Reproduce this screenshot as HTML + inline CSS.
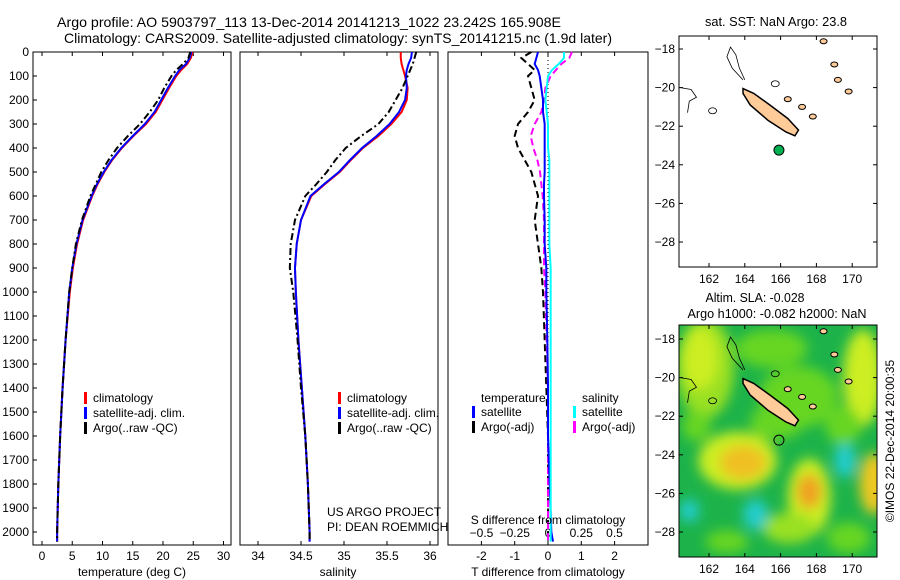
<!DOCTYPE html>
<html><head><meta charset="utf-8"><style>
body{margin:0;background:#fff;}
svg{display:block;font-family:"Liberation Sans",sans-serif;font-size:12px;}
</style></head><body>
<svg id="c" width="900" height="580">
<defs><clipPath id="mclip"><rect x="679" y="325" width="198" height="232"/></clipPath>
<filter id="blur" x="-20%" y="-20%" width="140%" height="140%"><feGaussianBlur stdDeviation="6"/></filter></defs>
<text x="309" y="27" text-anchor="middle" font-size="14" textLength="504" lengthAdjust="spacingAndGlyphs">Argo profile: AO 5903797_113 13-Dec-2014 20141213_1022 23.242S 165.908E</text>
<text x="338" y="43" text-anchor="middle" font-size="14" textLength="548" lengthAdjust="spacingAndGlyphs">Climatology: CARS2009. Satellite-adjusted climatology: synTS_20141215.nc (1.9d later)</text>
</svg>
<script>
const depths=[0,25,50,75,100,150,200,250,300,350,400,450,500,550,600,700,800,900,1000,1200,1400,1600,1800,2000,2040];
const tClim=[24.9,24.6,24.0,23.0,22.2,21.0,19.9,18.8,17.2,15.1,13.2,11.6,10.3,9.2,8.3,6.8,5.8,5.1,4.6,3.9,3.4,3.0,2.7,2.5,2.5];
const tSat=[24.7,24.4,23.8,22.7,22.0,20.8,19.7,18.6,17.0,15.0,13.1,11.5,10.2,9.1,8.2,6.7,5.7,5.0,4.5,3.9,3.4,3.0,2.7,2.5,2.5];
const tArgo=[24.5,24.2,23.3,22.2,21.4,20.2,19.2,17.8,16.2,14.2,12.4,11.0,9.8,8.9,8.0,6.6,5.6,5.0,4.5,3.9,3.4,3.0,2.7,2.5,2.5];
const sClim=[35.66,35.66,35.67,35.69,35.71,35.74,35.73,35.67,35.55,35.40,35.22,35.08,34.95,34.78,34.62,34.50,34.45,34.43,34.44,34.47,34.51,34.55,34.58,34.60,34.60];
const sSat=[35.79,35.78,35.75,35.73,35.72,35.73,35.71,35.64,35.53,35.38,35.21,35.07,34.94,34.77,34.61,34.50,34.45,34.43,34.44,34.47,34.51,34.55,34.58,34.60,34.60];
const sArgo=[35.84,35.82,35.80,35.77,35.74,35.68,35.60,35.52,35.40,35.20,35.02,34.90,34.80,34.68,34.55,34.43,34.38,34.37,34.41,34.46,34.50,34.55,34.58,34.60,34.60];
const dTsat=[-0.3,-0.35,-0.4,-0.3,-0.25,-0.2,-0.15,-0.15,-0.1,-0.1,-0.1,-0.1,-0.1,-0.12,-0.12,-0.1,-0.1,-0.05,-0.05,-0.02,0,0,0.05,0.1,0.15];
const dTargo=[-0.5,-0.8,-0.6,-0.4,-0.6,-0.5,-0.4,-0.6,-0.9,-1.0,-0.9,-0.7,-0.5,-0.4,-0.3,-0.4,-0.3,-0.2,-0.15,-0.1,-0.05,0,0,0,0];
const dSsat=[0.12,0.12,0.08,0.03,0.0,-0.01,-0.02,-0.01,0.0,0.0,0.0,0.01,0.01,0.01,0.01,0.01,0.01,0.02,0.02,0.02,0.02,0.02,0.02,0.02,0.02];
const dSargo=[0.18,0.16,0.1,0.06,0.02,-0.02,-0.03,-0.05,-0.1,-0.13,-0.11,-0.08,-0.06,-0.05,-0.04,-0.03,-0.03,-0.03,-0.02,-0.01,0,0,0,0,0];
const depthTicks=[0,100,200,300,400,500,600,700,800,900,1000,1100,1200,1300,1400,1500,1600,1700,1800,1900,2000];
const tTicks=[0,5,10,15,20,25,30];
const sTicks=[34,34.5,35,35.5,36];
const dtTicks=[-2,-1,0,1,2];
const dsTicks=[-0.5,-0.25,0,0.25,0.5];
const lonTicks=[162,164,166,168,170];
const latTicks=[-18,-20,-22,-24,-26,-28];

const NS='http://www.w3.org/2000/svg',svg=document.getElementById('c');
function el(t,a,txt,parent){const e=document.createElementNS(NS,t);for(const k in a)e.setAttribute(k,a[k]);if(txt!==undefined&&txt!==null)e.textContent=txt;(parent||svg).appendChild(e);return e;}
const Y=d=>52+d*0.24;
function panel(x0,x1,name){const r=el('rect',{x:x0,y:52,width:x1-x0,height:493,fill:'none',stroke:'#000'});}
function line(vals,X,col,dash,name,w){const p=el('polyline',{points:vals.map((v,i)=>X(v)+','+Y(depths[i])).join(' '),fill:'none',stroke:col,'stroke-width':w||2,'stroke-dasharray':dash||''});}
function xticks(ticks,X,y,name){ticks.forEach(t=>{el('line',{x1:X(t),x2:X(t),y1:545,y2:541,stroke:'#000'});el('line',{x1:X(t),x2:X(t),y1:52,y2:56,stroke:'#000'});const e=el('text',{x:X(t),y:y,'text-anchor':'middle'},t);});}
function legend(x,y,items){items.forEach((it,i)=>{el('rect',{x:x,y:y+i*15-10,width:3,height:12,fill:it[0]});const e=el('text',{x:x+9,y:y+i*15},it[1]);});}
depthTicks.forEach(d=>{el('line',{x1:33,x2:37,y1:Y(d),y2:Y(d),stroke:'#000'});const e=el('text',{x:29,y:Y(d)+4,'text-anchor':'end'},d);});
const XT=v=>42+v*6.05;
panel(33,231,'temperature-panel');
xticks(tTicks,XT,560,'temp-tick-label');
line(tClim,XT,'#f00','','temp-climatology-line');
line(tSat,XT,'#00f','','temp-satellite-line');
line(tArgo,XT,'#000','7,3,2,3','temp-argo-line');
el('text',{x:132,y:576,'text-anchor':'middle',},'temperature (deg C)');
legend(84,402,[['#f00','climatology'],['#00f','satellite-adj. clim.'],['#000','Argo(..raw -QC)']]);
const XS=v=>258+(v-34)*86;
panel(240,438,'salinity-panel');
xticks(sTicks,XS,560,'sal-tick-label');
line(sClim,XS,'#f00','','sal-climatology-line');
line(sSat,XS,'#00f','','sal-satellite-line');
line(sArgo,XS,'#000','7,3,2,3','sal-argo-line');
el('text',{x:338,y:576,'text-anchor':'middle',},'salinity');
legend(338,402,[['#f00','climatology'],['#00f','satellite-adj. clim.'],['#000','Argo(..raw -QC)']]);
el('text',{x:327,y:516,},'US ARGO PROJECT');
el('text',{x:327,y:531,},'PI: DEAN ROEMMICH');
const XD=v=>548+v*33.3, XDS=v=>548+v*133;
panel(448,648,'difference-panel');
xticks(dtTicks,XD,560,'tdiff-tick-label');
dsTicks.forEach(t=>{const e=el('text',{x:XDS(t),y:537,'text-anchor':'middle'},t===0?'0':(t<0?'\u2212'+(-t):t));});
el('line',{x1:548,x2:548,y1:52,y2:545,stroke:'#000','stroke-dasharray':'1,3'});
line(dTargo,XD,'#000','7,4','tdiff-argo-line');
line(dSargo,XDS,'#f0f','7,4','sdiff-argo-line');
line(dTsat,XD,'#00f','','tdiff-satellite-line');
line(dSsat,XDS,'#0ff','','sdiff-satellite-line');
el('text',{x:548,y:524,'text-anchor':'middle',},'S difference from climatology');
el('text',{x:548,y:576,'text-anchor':'middle',},'T difference from climatology');
el('text',{x:481,y:402,},'temperature');
el('text',{x:582,y:402,},'salinity');
legend(472,416,[['#00f','satellite'],['#000','Argo(-adj)']]);
legend(573,416,[['#0ff','satellite'],['#f0f','Argo(-adj)']]);
const MX=l=>709+(l-162)*17.9;
function map(y0,y1,latY,titles,heat){
 if(heat){
  const g=el('g',{'clip-path':'url(#mclip)'});
  el('rect',{x:679,y:y0,width:198,height:y1-y0,fill:'#1db34a'},null,g);
  const bg=el('g',{filter:'url(#blur)'},null,g);
  const blobs=[
   [161.8,-19.5,1.6,2.6,'#99e022'],[161.5,-19.0,1.0,1.6,'#ccee22'],
   [165.5,-18.5,2.0,1.0,'#66d622'],[167,-21,2.2,1.6,'#66d622'],[165.8,-22.3,1.5,0.9,'#66d622'],
   [170.6,-20,1.1,2.5,'#ccee22'],[169.5,-22.5,1.0,1.0,'#66d622'],
   [163.6,-24.3,2.2,1.5,'#ccee22'],[163.9,-24.4,1.3,0.9,'#f0c020'],
   [167.6,-26.2,1.2,2.0,'#ccee22'],[167.6,-25.9,0.7,0.9,'#f0a020'],[166.5,-27.8,1.5,0.8,'#99e022'],
   [171.2,-25.5,0.8,1.6,'#eec822'],[169.6,-24.3,0.6,0.9,'#22cccc'],
   [164.6,-27.1,0.7,0.8,'#22cccc'],[160.9,-26.9,0.55,0.6,'#22cccc'],[161.3,-22.5,0.8,0.8,'#66d622'],
   [169.8,-28.3,1.2,0.8,'#66d622'],[163,-28.5,1.2,0.6,'#66d622']];
  blobs.forEach(b=>el('ellipse',{cx:MX(b[0]),cy:latY(b[1]),rx:b[2]*17.9,ry:b[3]*19.3,fill:b[4]},null,bg));
 }
 const P=pts=>pts.map(p=>MX(p[0])+','+latY(p[1])).join(' ');
 el('polygon',{points:P([[163.9,-20.05],[164.5,-20.3],[165.4,-20.9],[166.4,-21.6],[167.0,-22.2],[166.8,-22.5],[166.3,-22.3],[165.3,-21.7],[164.3,-20.9],[163.9,-20.3]]),fill:'#ffcc99',stroke:'#000','stroke-width':1.5});
 [[167.2,-21.0],[167.8,-21.5],[166.4,-20.6],[169.2,-19.6],[168.4,-17.6],[169.0,-18.8],[169.8,-20.2]].forEach(p=>el('ellipse',{cx:MX(p[0]),cy:latY(p[1]),rx:3.5,ry:2.5,fill:'#ffcc99',stroke:'#000'}));
 el('polyline',{points:P([[163.9,-19.6],[163.3,-19.0],[163.0,-18.4],[163.2,-17.9],[163.5,-18.3],[163.7,-19.0],[164.0,-19.6]]),fill:'none',stroke:'#000','stroke-width':0.8});
 el('polyline',{points:P([[160.4,-20.0],[161.0,-20.1],[161.3,-20.5],[160.9,-20.7],[160.8,-21.3]]),fill:'none',stroke:'#000','stroke-width':0.8});
 el('ellipse',{cx:MX(162.2),cy:latY(-21.2),rx:4,ry:3,fill:'none',stroke:'#000','stroke-width':0.8});
 el('ellipse',{cx:MX(165.7),cy:latY(-19.8),rx:4,ry:3,fill:'none',stroke:'#000','stroke-width':0.8});
 const dot=el('circle',{cx:MX(165.908),cy:latY(-23.242),r:5,fill:heat?'none':'#00b050',stroke:'#000'});
 
 const fr=el('rect',{x:679,y:y0,width:198,height:y1-y0,fill:'none',stroke:'#000'});
 
 lonTicks.forEach(l=>{el('line',{x1:MX(l),x2:MX(l),y1:y0,y2:y0+4,stroke:'#000'});el('line',{x1:MX(l),x2:MX(l),y1:y1,y2:y1-4,stroke:'#000'});const e=el('text',{x:MX(l),y:y1+16,'text-anchor':'middle'},l);});
 latTicks.forEach(l=>{el('line',{x1:679,x2:683,y1:latY(l),y2:latY(l),stroke:'#000'});el('line',{x1:877,x2:873,y1:latY(l),y2:latY(l),stroke:'#000'});const e=el('text',{x:675,y:latY(l)+4,'text-anchor':'end'},'\u2212'+(-l));});
 titles.forEach(t=>{const e=el('text',{x:t[1],y:t[2],'text-anchor':'middle','font-size':13,textLength:t[3],lengthAdjust:'spacingAndGlyphs'},t[0]);});
}
map(36,267,l=>49+(-18-l)*19.3,[['sat. SST: NaN Argo: 23.8',776,26,142]],false);
map(325,557,l=>339+(-18-l)*19.3,[['Altim. SLA: -0.028',755,302,99],['Argo h1000: -0.082 h2000: NaN',777,318,179]],true);
const cr=el('text',{x:894,y:441,'text-anchor':'middle',transform:'rotate(-90 894 441)'},'\u00A9IMOS 22-Dec-2014 20:00:35');

</script>
</body></html>
